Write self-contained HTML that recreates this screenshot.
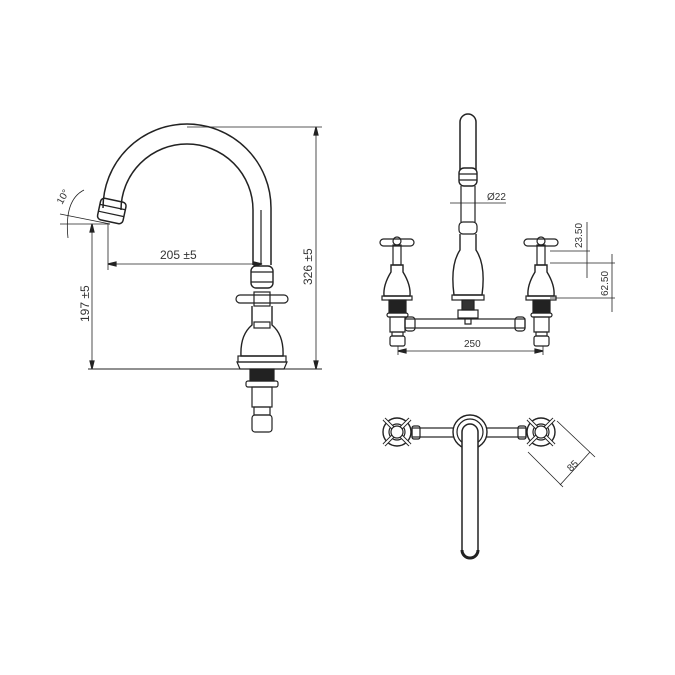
<!DOCTYPE html>
<html><head><style>html,body{margin:0;padding:0;background:#fff}svg{display:block}</style></head><body>
<svg width="675" height="675" viewBox="0 0 675 675" xmlns="http://www.w3.org/2000/svg" fill="none" stroke="#222" stroke-width="1.2" font-family="Liberation Sans, sans-serif">
<!-- SIDE VIEW -->
<path d="M103 208 A84 84 0 0 1 271 208 L271 265" stroke-width="1.5"/>
<path d="M121 210 A66 66 0 0 1 253 210 L253 265" stroke-width="1.5"/>
<line x1="261" y1="210" x2="261" y2="264"/>
<g transform="rotate(12 112 210)"><rect x="99" y="200" width="26" height="22" rx="4" stroke-width="1.5"/><line x1="99" y1="207" x2="125" y2="207"/><line x1="99" y1="214" x2="125" y2="214"/></g>
<!-- dims side -->
<line x1="187" y1="127" x2="322" y2="127" stroke-width="0.8"/>
<line x1="316" y1="127" x2="316" y2="369" stroke-width="0.8"/>
<path d="M316 127 l-2 8 h4z M316 369 l-2 -8 h4z" fill="#222"/>
<text x="0" y="0" transform="translate(312 285) rotate(-90)" font-size="12" fill="#333" stroke="none">326 ±5</text>
<line x1="88" y1="369" x2="322" y2="369" stroke-width="1"/>
<line x1="92" y1="224" x2="92" y2="369" stroke-width="0.8"/>
<path d="M92 224 l-2 8 h4z M92 369 l-2 -8 h4z" fill="#222"/>
<text transform="translate(89 322) rotate(-90)" font-size="12" fill="#333" stroke="none">197 ±5</text>
<line x1="108" y1="224" x2="108" y2="270" stroke-width="0.8"/>
<line x1="108" y1="264" x2="262" y2="264" stroke-width="0.8"/>
<path d="M108 264 l8 -2 v4z M262 264 l-8 -2 v4z" fill="#222"/>
<text x="160" y="259" font-size="12" fill="#333" stroke="none">205 ±5</text>
<line x1="60" y1="214" x2="110" y2="224" stroke-width="0.8"/>
<line x1="60" y1="224" x2="110" y2="224" stroke-width="0.8"/>
<path d="M84 190 Q64 200 68 238" stroke-width="0.8"/>
<text transform="translate(62 205) rotate(-60)" font-size="10" fill="#333" stroke="none">10°</text>
<!-- side body -->
<rect x="251" y="266" width="22" height="22" rx="5" stroke-width="1.4"/>
<line x1="251" y1="272" x2="273" y2="272"/><line x1="251" y1="282" x2="273" y2="282"/>
<rect x="236" y="295" width="52" height="8" rx="4"/>
<rect x="254" y="292" width="16" height="14"/>
<path d="M252 306 L252 325 Q240 335 241 356 L283 356 Q284 335 272 325 L272 306" stroke-width="1.4"/>
<rect x="254" y="322" width="16" height="6"/>
<rect x="238" y="356" width="48" height="6"/>
<path d="M237 362 h50 l-3 7 h-44z"/>
<rect x="250" y="369" width="24" height="12" fill="#222"/>
<rect x="246" y="381" width="32" height="6" rx="2"/>
<rect x="252" y="387" width="20" height="20"/>
<rect x="254" y="407" width="16" height="8"/>
<rect x="252" y="415" width="20" height="17" rx="3"/>
<!-- FRONT VIEW -->
<path d="M460 170 L460 122 A8 8 0 0 1 476 122 L476 170" stroke-width="1.5"/>
<rect x="459" y="168" width="18" height="18" rx="5" stroke-width="1.4"/>
<line x1="459" y1="174" x2="477" y2="174"/><line x1="459" y1="180" x2="477" y2="180"/>
<line x1="461" y1="186" x2="461" y2="222"/><line x1="475" y1="186" x2="475" y2="222"/>
<rect x="459" y="222" width="18" height="12" rx="4"/>
<path d="M460 234 L460 250 Q450 265 454 295 L482 295 Q486 265 476 250 L476 234" stroke-width="1.4"/>
<rect x="452" y="295" width="32" height="5"/>
<rect x="462" y="300" width="12" height="10" fill="#333"/>
<rect x="458" y="310" width="20" height="8"/>
<path d="M465 318 v6 h6 v-6"/>
<line x1="450" y1="203" x2="506" y2="203" stroke-width="0.8"/>
<text x="487" y="200" font-size="10" fill="#333" stroke="none">Ø22</text>
<!-- handles front -->
<g id="fh">
<rect x="380" y="239" width="34" height="7" rx="3.5"/>
<circle cx="397" cy="241" r="4"/>
<rect x="393" y="245" width="8" height="20"/>
<path d="M391 265 L391 272 Q383 285 384 296 L410 296 Q411 285 403 272 L403 265 Z" stroke-width="1.4"/>
<rect x="382" y="296" width="30" height="4"/>
<rect x="389" y="300" width="17" height="13" fill="#222"/>
<rect x="387" y="313" width="21" height="4" rx="2"/>
<rect x="390" y="317" width="15" height="15"/>
<rect x="392" y="332" width="11" height="4"/>
<rect x="390" y="336" width="15" height="10" rx="2"/>
</g>
<use href="#fh" transform="translate(144 0)"/>
<rect x="405" y="319" width="120" height="9"/>
<rect x="405" y="317" width="10" height="14" rx="3"/>
<rect x="515" y="317" width="10" height="14" rx="3"/>
<line x1="398" y1="346" x2="398" y2="355" stroke-width="0.8"/>
<line x1="543" y1="346" x2="543" y2="355" stroke-width="0.8"/>
<line x1="398" y1="351" x2="543" y2="351" stroke-width="0.8"/>
<path d="M398 351 l8 -2 v4z M543 351 l-8 -2 v4z" fill="#222"/>
<text x="464" y="347" font-size="10" fill="#333" stroke="none">250</text>
<line x1="550" y1="251" x2="590" y2="251" stroke-width="0.8"/>
<line x1="550" y1="263" x2="615" y2="263" stroke-width="0.8"/>
<line x1="550" y1="298" x2="615" y2="298" stroke-width="0.8"/>
<line x1="587" y1="222" x2="587" y2="278" stroke-width="0.8"/>
<line x1="612" y1="254" x2="612" y2="312" stroke-width="0.8"/>
<text transform="translate(582 248) rotate(-90)" font-size="10" fill="#333" stroke="none">23.50</text>
<text transform="translate(608 296) rotate(-90)" font-size="10" fill="#333" stroke="none">62.50</text>
<!-- TOP VIEW -->
<g id="th">
<circle cx="397" cy="432" r="14" stroke-width="1.4"/>
<circle cx="397" cy="432" r="8"/>
<path d="M384 419 L410 445 M410 419 L384 445" stroke-width="4"/>
<path d="M384 419 L410 445 M410 419 L384 445" stroke="#fff" stroke-width="2"/>
<circle cx="397" cy="432" r="6" fill="#fff"/>
</g>
<use href="#th" transform="translate(144 0)"/>
<rect x="412" y="428" width="114" height="9"/>
<rect x="412" y="426" width="8" height="13" rx="2"/>
<rect x="518" y="426" width="8" height="13" rx="2"/>
<circle cx="470" cy="432" r="17" fill="#fff" stroke-width="1.4"/>
<circle cx="470" cy="432" r="13"/>
<path d="M462 440 L462 432 A8 8 0 0 1 478 432 L478 550 A8 8 0 0 1 462 550 Z" fill="#fff" stroke-width="1.5"/>
<path d="M462 550 A8 8 0 0 0 478 550" stroke-width="3"/>
<line x1="557" y1="421" x2="595" y2="457" stroke-width="0.8"/>
<line x1="528" y1="452" x2="563" y2="487" stroke-width="0.8"/>
<line x1="590" y1="452" x2="560" y2="485" stroke-width="0.8"/>
<text transform="translate(571 472) rotate(-45)" font-size="10" fill="#333" stroke="none">85</text>
</svg>
</body></html>
